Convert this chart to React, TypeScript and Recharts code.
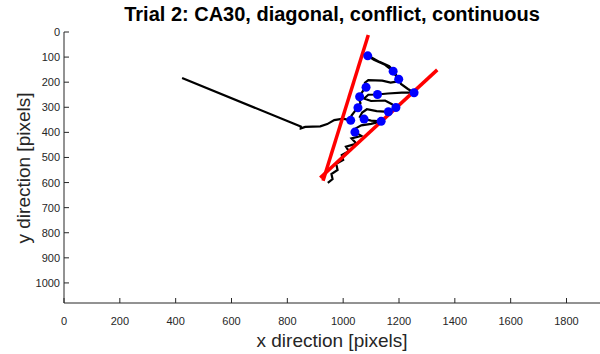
import { ComposedChart, Line, Scatter, XAxis, YAxis, Label } from "recharts";

document.body.style.margin = "0";

// screen is 1920 x 1080, y grows downward
const xTicks = [0, 200, 400, 600, 800, 1000, 1200, 1400, 1600, 1800];
const yTicks = [0, 100, 200, 300, 400, 500, 600, 700, 800, 900, 1000];

// cursor trajectory (x, y in screen pixels)
const trajectory = [
  [423, 183], [848, 377], [848, 384], [864, 378], [918, 376], [943, 367],
  [968, 351], [1000, 345], [1025, 352], [1030, 333], [1040, 318], [1051, 302],
  [1062, 283], [1058, 271], [1057, 258], [1068, 240], [1080, 220], [1078, 202],
  [1090, 192], [1140, 194], [1170, 202], [1195, 197], [1199, 188], [1187, 172],
  [1179, 156], [1150, 131], [1110, 111], [1088, 95], [1100, 101], [1130, 119],
  [1165, 136], [1182, 157], [1199, 188], [1207, 207], [1232, 227], [1254, 242],
  [1210, 242], [1160, 245], [1123, 249], [1090, 250], [1075, 265], [1100, 275],
  [1150, 273], [1175, 288], [1189, 301], [1172, 311], [1162, 318], [1120, 315],
  [1085, 308], [1068, 321], [1060, 338], [1075, 347], [1100, 353], [1136, 356],
  [1100, 366], [1065, 372], [1045, 384], [1042, 399], [1065, 414], [1030, 424],
  [1048, 445], [1010, 457], [1020, 475], [995, 490], [1000, 510], [975, 525],
  [980, 550], [958, 566], [962, 586], [945, 601],
];

// sampled positions along the trajectory
const samples = [
  [1088, 95], [1179, 156], [1199, 188], [1254, 242], [1082, 220], [1123, 249],
  [1059, 258], [1053, 302], [1189, 301], [1162, 318], [1027, 352], [1075, 347],
  [1136, 356], [1042, 399],
];

// boundaries of the 30 degree corridor
const boundaryLeft = [[928, 593], [1090, 12]];
const boundaryRight = [[918, 581], [1337, 151]];

const toPoints = (arr: number[][]) => arr.map(([x, y]) => ({ x, y }));

const FONT = "'Liberation Sans', Arial, Helvetica, sans-serif";
const AXIS = "#262626";
const PLOT_LEFT = 64;
const PLOT_BOTTOM = 303;

const XTick = ({ x, payload }: any) => (
  <g>
    <line x1={x} x2={x} y1={PLOT_BOTTOM} y2={PLOT_BOTTOM - 5} stroke={AXIS} />
    <text x={x} y={PLOT_BOTTOM + 22} textAnchor="middle" fontSize={11} fill={AXIS} fontFamily={FONT}>
      {payload.value}
    </text>
  </g>
);

const YTick = ({ y, payload }: any) => (
  <g>
    <line x1={PLOT_LEFT} x2={PLOT_LEFT + 5} y1={y} y2={y} stroke={AXIS} />
    <text x={PLOT_LEFT - 4} y={y + 4} textAnchor="end" fontSize={11} fill={AXIS} fontFamily={FONT}>
      {payload.value}
    </text>
  </g>
);

const Dot = ({ cx, cy }: any) => <circle cx={cx} cy={cy} r={4.5} fill="#0000ff" />;

export default function App() {
  return (
    <div style={{ position: "relative", width: 600, height: 354, background: "#fff" }}>
      <div
        style={{
          position: "absolute",
          top: 3,
          left: 64,
          width: 536,
          textAlign: "center",
          fontFamily: FONT,
          fontWeight: "bold",
          fontSize: 20,
          color: "#000",
        }}
      >
        Trial 2: CA30, diagonal, conflict, continuous
      </div>
      <ComposedChart width={600} height={354} margin={{ top: 32, right: 0, bottom: 50, left: 0 }}>
        <XAxis
          type="number"
          dataKey="x"
          domain={[0, 1920]}
          ticks={xTicks}
          allowDataOverflow
          height={1}
          stroke={AXIS}
          tickLine={false}
          tick={<XTick />}
          interval={0}
        >
          <Label
            content={() => (
              <text x={332} y={347} textAnchor="middle" fontSize={19} fill={AXIS} fontFamily={FONT}>
                x direction [pixels]
              </text>
            )}
          />
        </XAxis>
        <YAxis
          type="number"
          dataKey="y"
          domain={[0, 1080]}
          reversed
          ticks={yTicks}
          allowDataOverflow
          width={64}
          stroke={AXIS}
          tickLine={false}
          tick={<YTick />}
          interval={0}
        >
          <Label
            content={() => (
              <text
                x={30}
                y={168}
                transform="rotate(-90 30 168)"
                textAnchor="middle"
                fontSize={19}
                fill={AXIS}
                fontFamily={FONT}
              >
                y direction [pixels]
              </text>
            )}
          />
        </YAxis>
        <Line
          data={toPoints(trajectory)}
          dataKey="y"
          type="linear"
          stroke="#000"
          strokeWidth={2.2}
          dot={false}
          activeDot={false}
          isAnimationActive={false}
        />
        <Line
          data={toPoints(boundaryLeft)}
          dataKey="y"
          type="linear"
          stroke="#ff0000"
          strokeWidth={3.5}
          dot={false}
          activeDot={false}
          isAnimationActive={false}
        />
        <Line
          data={toPoints(boundaryRight)}
          dataKey="y"
          type="linear"
          stroke="#ff0000"
          strokeWidth={3.5}
          dot={false}
          activeDot={false}
          isAnimationActive={false}
        />
        <Scatter data={toPoints(samples)} dataKey="y" shape={<Dot />} isAnimationActive={false} />
      </ComposedChart>
    </div>
  );
}
